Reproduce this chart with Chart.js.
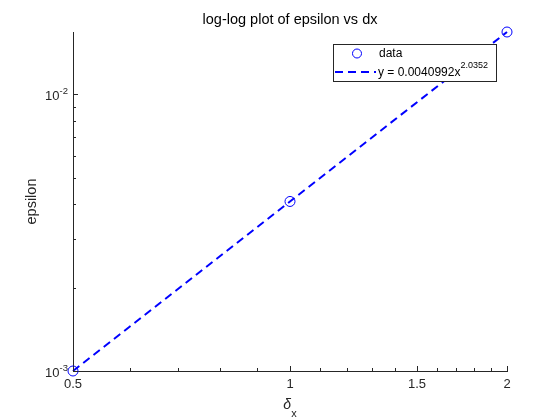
<!DOCTYPE html>
<html>
<head>
<meta charset="utf-8">
<script src="https://cdn.jsdelivr.net/npm/chart.js@4/dist/chart.umd.min.js"></script>
<style>
  html, body { margin: 0; background: #fff; }
</style>
</head>
<body>
<canvas id="chart" width="560" height="420"></canvas>
<script>
// data
const dx = [0.5, 1, 2];
const epsilon = [0.0010, 0.0041, 0.0168];
const fitValues = [0.0010, 0.0041, 0.0168];

const titleText = 'log-log plot of epsilon vs dx';
const yTitle = 'epsilon';
const legendLabels = ['data', 'y = 0.0040992x'];
const fitExponent = '2.0352';

// tick positions (majors carry a label)
const xTicks = [0.5, 0.6, 0.7, 0.8, 0.9, 1, 1.1, 1.2, 1.3, 1.4, 1.5, 1.6, 1.7, 1.8, 1.9, 2];
const xTickLabels = { 0.5: '0.5', 1: '1', 1.5: '1.5', 2: '2' };
const yTicks = [0.001, 0.002, 0.003, 0.004, 0.005, 0.006, 0.007, 0.008, 0.009, 0.01];
const yTickExponents = { 0.001: '-3', 0.01: '-2' };

const FONT = '"Liberation Sans", Arial, Helvetica, sans-serif';
const AXIS = '#262626';
const BLUE = '#0000ff';

// MATLAB-ish decorations: inward ticks, superscript labels, title, legend
const matlabAxes = {
  id: 'matlabAxes',
  afterDraw(chart) {
    const ctx = chart.ctx;
    const { left, right, top, bottom } = chart.chartArea;
    const xs = chart.scales.x;
    const ys = chart.scales.y;

    ctx.save();
    ctx.strokeStyle = AXIS;
    ctx.lineWidth = 1;
    ctx.beginPath();
    xTicks.forEach(v => {
      const px = Math.round(xs.getPixelForValue(v)) + 0.5;
      const len = xTickLabels[v] ? 5 : 3;
      ctx.moveTo(px, bottom);
      ctx.lineTo(px, bottom - len);
    });
    yTicks.forEach(v => {
      const py = Math.round(ys.getPixelForValue(v)) + 0.5;
      const len = yTickExponents[v] ? 5 : 3;
      ctx.moveTo(left, py);
      ctx.lineTo(left + len, py);
    });
    ctx.stroke();

    // y tick labels as 10^n
    ctx.fillStyle = AXIS;
    ctx.textBaseline = 'middle';
    ctx.textAlign = 'left';
    yTicks.forEach(v => {
      const exp = yTickExponents[v];
      if (!exp) return;
      const py = ys.getPixelForValue(v);
      ctx.font = '13px ' + FONT;
      const wBase = ctx.measureText('10').width;
      ctx.font = '9.5px ' + FONT;
      const wExp = ctx.measureText(exp).width;
      const x0 = left - 5 - wExp - wBase;
      ctx.font = '13px ' + FONT;
      ctx.fillText('10', x0, py + 2);
      ctx.font = '9.5px ' + FONT;
      ctx.fillText(exp, x0 + wBase, py - 3);
    });

    // x axis title: delta with subscript x
    const cx = (left + right) / 2;
    ctx.font = 'italic 14px ' + FONT;
    const wd = ctx.measureText('δ').width;
    ctx.font = '11px ' + FONT;
    const wx = ctx.measureText('x').width;
    const sx = cx - (wd + wx) / 2;
    ctx.textBaseline = 'alphabetic';
    ctx.font = 'italic 14px ' + FONT;
    ctx.fillText('δ', sx, 409);
    ctx.font = '11px ' + FONT;
    ctx.fillText('x', sx + wd, 417);

    // y axis title
    ctx.save();
    ctx.translate(36, (top + bottom) / 2);
    ctx.rotate(-Math.PI / 2);
    ctx.textAlign = 'center';
    ctx.font = '14.5px ' + FONT;
    ctx.fillText(yTitle, 0, 0);
    ctx.restore();

    // title
    ctx.fillStyle = '#000';
    ctx.textAlign = 'center';
    ctx.font = '14.5px ' + FONT;
    ctx.fillText(titleText, cx, 24);

    // legend box
    const lx = 333.5, ly = 44.5, lw = 163, lh = 37;
    ctx.fillStyle = '#fff';
    ctx.fillRect(lx, ly, lw, lh);
    ctx.strokeStyle = AXIS;
    ctx.strokeRect(lx, ly, lw, lh);

    const dsData = chart.data.datasets[0];
    const dsFit = chart.data.datasets[1];
    ctx.strokeStyle = dsData.borderColor;
    ctx.lineWidth = 1;
    ctx.beginPath();
    ctx.arc(357, 53.5, 4.5, 0, Math.PI * 2);
    ctx.stroke();

    ctx.strokeStyle = dsFit.borderColor;
    ctx.lineWidth = dsFit.borderWidth;
    ctx.setLineDash(dsFit.borderDash);
    ctx.beginPath();
    ctx.moveTo(335, 72);
    ctx.lineTo(376, 72);
    ctx.stroke();
    ctx.setLineDash([]);

    ctx.fillStyle = '#000';
    ctx.textAlign = 'left';
    ctx.textBaseline = 'middle';
    ctx.font = '12px ' + FONT;
    ctx.fillText(legendLabels[0], 379, 54);
    ctx.fillText(legendLabels[1], 378, 73);
    const wl = ctx.measureText(legendLabels[1]).width;
    ctx.font = '9px ' + FONT;
    ctx.fillText(fitExponent, 378 + wl, 66);
    ctx.restore();
  }
};

new Chart(document.getElementById('chart'), {
  type: 'line',
  data: {
    datasets: [
      {
        label: legendLabels[0],
        data: dx.map((x, i) => ({ x: x, y: epsilon[i] })),
        showLine: false,
        borderColor: BLUE,
        backgroundColor: 'rgba(0,0,0,0)',
        pointStyle: 'circle',
        pointRadius: 5,
        pointBorderWidth: 1,
        clip: false
      },
      {
        label: legendLabels[1],
        data: dx.map((x, i) => ({ x: x, y: fitValues[i] })),
        borderColor: BLUE,
        borderWidth: 2,
        borderDash: [8, 5],
        pointRadius: 0,
        fill: false,
        tension: 0,
        clip: false
      }
    ]
  },
  options: {
    responsive: false,
    animation: false,
    devicePixelRatio: 1,
    layout: { padding: { top: 32, right: 53, left: 0, bottom: 0 } },
    plugins: {
      legend: { display: false },
      title: { display: false },
      tooltip: { enabled: false }
    },
    scales: {
      x: {
        type: 'logarithmic',
        min: 0.5,
        max: 2,
        afterBuildTicks: s => { s.ticks = xTicks.map(v => ({ value: v })); },
        afterFit: s => { s.height = 49; },
        grid: { display: false, drawTicks: false },
        border: { display: true, color: AXIS, width: 1 },
        ticks: {
          autoSkip: false,
          maxRotation: 0,
          padding: 6,
          color: AXIS,
          font: { family: FONT, size: 13 },
          callback: v => xTickLabels[v] || ''
        }
      },
      y: {
        type: 'logarithmic',
        min: 0.001,
        max: 0.0168,
        afterBuildTicks: s => { s.ticks = yTicks.map(v => ({ value: v })); },
        afterFit: s => { s.width = 73; },
        grid: { display: false, drawTicks: false },
        border: { display: true, color: AXIS, width: 1 },
        ticks: { display: true, callback: () => '' }
      }
    }
  },
  plugins: [matlabAxes]
});
</script>
</body>
</html>
